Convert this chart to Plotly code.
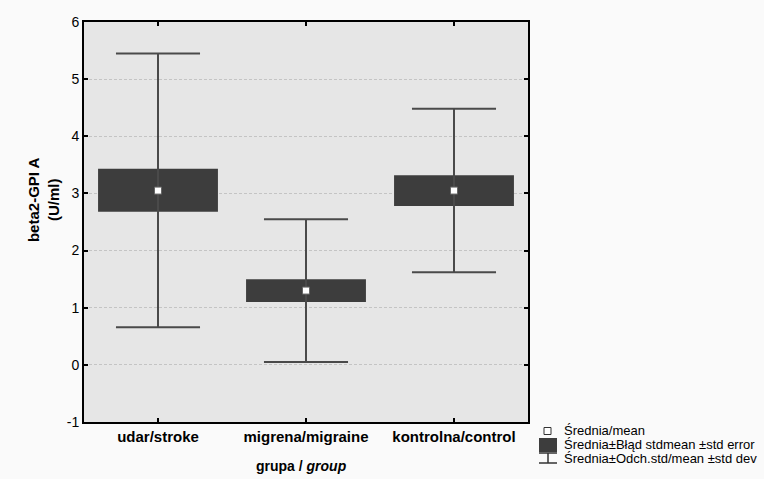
import plotly.graph_objects as go

groups = ["udar/stroke", "migrena/migraine", "kontrolna/control"]
means = [3.05, 1.30, 3.05]
se_low = [2.68, 1.10, 2.78]
se_high = [3.43, 1.50, 3.32]
sd_low = [0.66, 0.05, 1.62]
sd_high = [5.45, 2.55, 4.48]
y_ticks = [-1, 0, 1, 2, 3, 4, 5, 6]
y_ticklabels = ["-1", "0", "1", "2", "3", "4", "5", "6"]

FONT = "Liberation Sans, Arial, sans-serif"
BOX_W = 0.81
CAP_HALF = 0.284
xs = list(range(len(groups)))

fig = go.Figure()

# whiskers (vertical + caps)
wx, wy = [], []
for i in xs:
    wx += [i, i, None, i - CAP_HALF, i + CAP_HALF, None, i - CAP_HALF, i + CAP_HALF, None]
    wy += [sd_low[i], sd_high[i], None, sd_high[i], sd_high[i], None, sd_low[i], sd_low[i], None]
fig.add_trace(go.Scatter(x=wx, y=wy, mode="lines", line=dict(color="#4a4a4a", width=2),
                         showlegend=False, hoverinfo="skip"))

# SE boxes
fig.add_trace(go.Bar(x=xs, y=[h - l for h, l in zip(se_high, se_low)], base=se_low,
                     width=BOX_W, marker=dict(color="#3d3d3d", line=dict(width=0)),
                     showlegend=False))

# means
fig.add_trace(go.Scatter(x=xs, y=means, mode="markers",
                         marker=dict(symbol="square", size=7, color="white",
                                     line=dict(color="#666666", width=1)),
                         showlegend=False))

fig.update_layout(
    width=764, height=479,
    margin=dict(l=84, r=236, t=22, b=57),
    paper_bgcolor="#fafafa", plot_bgcolor="#e6e6e6",
    font=dict(family=FONT, size=13, color="black"),
    showlegend=False,
    xaxis=dict(range=[-0.5, 2.5], tickvals=xs, ticktext=["<b>%s</b>" % g for g in groups],
               ticks="inside", ticklen=4, tickcolor="black", tickwidth=1.5,
               showline=True, linecolor="black", linewidth=2, mirror="ticks",
               showgrid=False, zeroline=False, tickfont=dict(size=15)),
    yaxis=dict(range=[-1, 6], tickvals=y_ticks, ticktext=y_ticklabels, ticks="inside", ticklen=4,
               tickcolor="black", tickwidth=1.5,
               showline=True, linecolor="black", linewidth=2, mirror="ticks",
               showgrid=True, gridcolor="#c4c4c4", griddash="3px,2px", gridwidth=1,
               zeroline=False, tickfont=dict(size=14)),
)

# y axis title
fig.add_annotation(xref="paper", yref="paper", x=-0.09, y=0.555, xanchor="center", yanchor="middle",
                   text="<b>beta2-GPI A<br>(U/ml)</b>", textangle=-90, showarrow=False,
                   font=dict(size=15, family=FONT))
# x axis title
fig.add_annotation(xref="paper", yref="paper", x=0.49, y=-0.11, xanchor="center", yanchor="middle",
                   text="<b>grupa / <i>group</i></b>", showarrow=False,
                   font=dict(size=14, family=FONT))

# manual legend (paper pixel -> fraction)
PW, PH = 444.0, 400.0
def px(xp):
    return (xp - 84) / PW
def py(yp):
    return (422 - yp) / PH

fig.add_shape(type="rect", xref="paper", yref="paper", x0=px(544), x1=px(551), y0=py(434.5), y1=py(427.5),
              line=dict(color="#333333", width=1), fillcolor="white")
fig.add_shape(type="rect", xref="paper", yref="paper", x0=px(539), x1=px(557), y0=py(452), y1=py(438),
              line=dict(width=0), fillcolor="#3d3d3d")
for (x0, y0, x1, y1) in [(539, 453, 557, 453), (548, 453, 548, 463), (539, 463, 557, 463)]:
    fig.add_shape(type="line", xref="paper", yref="paper", x0=px(x0), y0=py(y0), x1=px(x1), y1=py(y1),
                  line=dict(color="#333333", width=1.5))

legend_texts = ["Średnia/mean", "Średnia±Błąd stdmean ±std error", "Średnia±Odch.std/mean ±std dev"]
for t, yy in zip(legend_texts, [430, 444.5, 458.5]):
    fig.add_annotation(xref="paper", yref="paper", x=px(562), y=py(yy), xanchor="left", yanchor="middle",
                       text=t, showarrow=False, font=dict(size=13, family=FONT))

fig.write_html("out.html", config={"displayModeBar": False},
               post_script="document.body.style.margin='0';document.body.style.overflow='hidden';")
